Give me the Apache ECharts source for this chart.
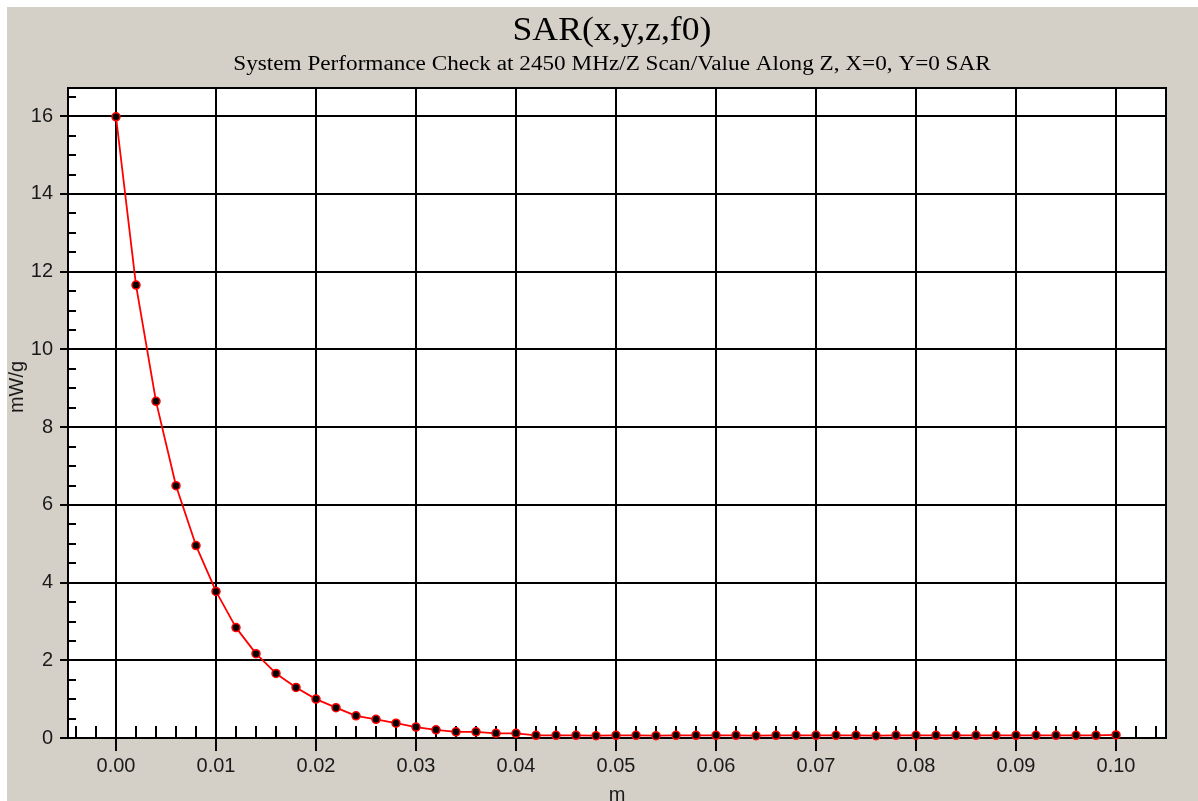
<!DOCTYPE html>
<html>
<head>
<meta charset="utf-8">
<script src="https://cdn.jsdelivr.net/npm/echarts@6/dist/echarts.min.js"></script>
<style>
html,body{margin:0;padding:0;background:#d4d0c8;}
#c{position:absolute;left:0;top:0;width:1198px;height:801px;}
</style>
</head>
<body>
<div id="c"></div>
<script>
// ---- data ----
const zPositions = [0.000,0.002,0.004,0.006,0.008,0.010,0.012,0.014,0.016,0.018,
  0.020,0.022,0.024,0.026,0.028,0.030,0.032,0.034,0.036,0.038,
  0.040,0.042,0.044,0.046,0.048,0.050,0.052,0.054,0.056,0.058,
  0.060,0.062,0.064,0.066,0.068,0.070,0.072,0.074,0.076,0.078,
  0.080,0.082,0.084,0.086,0.088,0.090,0.092,0.094,0.096,0.098,0.100];
const sarValues = [15.98,11.65,8.66,6.49,4.95,3.77,2.84,2.17,1.66,1.30,
  1.00,0.78,0.57,0.48,0.38,0.28,0.21,0.16,0.16,0.12,
  0.12,0.07,0.07,0.07,0.06,0.07,0.07,0.06,0.07,0.07,
  0.07,0.07,0.06,0.07,0.07,0.07,0.07,0.07,0.06,0.07,
  0.07,0.07,0.07,0.07,0.07,0.07,0.07,0.07,0.07,0.07,0.08];
const xLabelTicks = [0.00,0.01,0.02,0.03,0.04,0.05,0.06,0.07,0.08,0.09,0.10];
const xMinorTicks = [-0.004,-0.002,0.002,0.004,0.006,0.008,0.012,0.014,0.016,0.018,
  0.022,0.024,0.026,0.028,0.032,0.034,0.036,0.038,0.042,0.044,0.046,0.048,
  0.052,0.054,0.056,0.058,0.062,0.064,0.066,0.068,0.072,0.074,0.076,0.078,
  0.082,0.084,0.086,0.088,0.092,0.094,0.096,0.098,0.102,0.104];
const yLabelTicks = [0,2,4,6,8,10,12,14,16];
const yMinorTicks = [0.5,1,1.5,2.5,3,3.5,4.5,5,5.5,6.5,7,7.5,8.5,9,9.5,10.5,11,11.5,
  12.5,13,13.5,14.5,15,15.5,16.5];
const titleText = 'SAR(x,y,z,f0)';
const subtitleText = 'System Performance Check at 2450 MHz/Z Scan/Value Along Z, X=0, Y=0 SAR';
const xName = 'm';
const yName = 'mW/g';

const X_MIN = -0.0048, X_MAX = 0.105, Y_MIN = 0, Y_MAX = 16.72;
const labelFont = {fontFamily:'Liberation Sans, Arial, sans-serif', fontSize:20, color:'#1a1a1a'};

const chart = echarts.init(document.getElementById('c'), null, {renderer:'canvas'});
chart.setOption({
  backgroundColor:'#d4d0c8',
  animation:false,
  graphic:[
    {type:'rect', shape:{x:0,y:0,width:1198,height:7}, style:{fill:'#ffffff'}, silent:true},
    {type:'rect', shape:{x:0,y:0,width:7,height:801}, style:{fill:'#ffffff'}, silent:true},
    {type:'text', x:612, y:31, scaleX:1.05,
     style:{text:titleText, fill:'#000', font:'34px Liberation Serif, Times New Roman, serif', align:'center', verticalAlign:'middle'}},
    {type:'text', x:612, y:65, scaleX:1.16,
     style:{text:subtitleText, fill:'#000', font:'20px Liberation Serif, Times New Roman, serif', align:'center', verticalAlign:'middle'}},
    {type:'text', x:17, y:387, rotation:Math.PI/2,
     style:{text:yName, fill:'#1a1a1a', font:'20px Liberation Sans, Arial, sans-serif', align:'center', verticalAlign:'middle'}}
  ],
  grid:{left:68, top:88, width:1098, height:650, show:true, backgroundColor:'#ffffff',
        borderColor:'#000', borderWidth:2, containLabel:false, outerBoundsMode:'none'},
  xAxis:[
    {type:'value', min:X_MIN, max:X_MAX, splitNumber:11, position:'bottom',
     name:xName, nameLocation:'middle', nameGap:47, nameTextStyle:labelFont,
     axisLine:{show:true, onZero:false, lineStyle:{color:'#000', width:2}},
     axisTick:{show:true, inside:false, length:13, customValues:xLabelTicks, lineStyle:{color:'#000', width:2}},
     axisLabel:Object.assign({show:true, margin:18, customValues:xLabelTicks, formatter:v=>v.toFixed(2)}, labelFont),
     splitLine:{show:true, lineStyle:{color:'#000', width:2}}
    },
    {type:'value', min:X_MIN, max:X_MAX, position:'bottom', gridIndex:0,
     axisLine:{show:false, onZero:false},
     axisTick:{show:true, inside:true, length:12, customValues:xMinorTicks, lineStyle:{color:'#000', width:2}},
     axisLabel:{show:false}, splitLine:{show:false}
    }
  ],
  yAxis:[
    {type:'value', min:Y_MIN, max:Y_MAX, splitNumber:8, position:'left',
     axisLine:{show:true, onZero:false, lineStyle:{color:'#000', width:2}},
     axisTick:{show:true, inside:false, length:8, customValues:yLabelTicks, lineStyle:{color:'#000', width:2}},
     axisLabel:Object.assign({show:true, margin:15, customValues:yLabelTicks, formatter:v=>String(v)}, labelFont),
     splitLine:{show:true, lineStyle:{color:'#000', width:2}}
    },
    {type:'value', min:Y_MIN, max:Y_MAX, position:'left', gridIndex:0,
     axisLine:{show:false, onZero:false},
     axisTick:{show:true, inside:true, length:8, customValues:yMinorTicks, lineStyle:{color:'#000', width:2}},
     axisLabel:{show:false}, splitLine:{show:false}
    }
  ],
  series:[{
    type:'line', xAxisIndex:0, yAxisIndex:0,
    data:zPositions.map((z,i)=>[z, sarValues[i]]),
    symbol:'circle', symbolSize:8, showAllSymbol:true,
    lineStyle:{color:'#ff0000', width:1.8},
    itemStyle:{color:'#000000', borderColor:'#ff0000', borderWidth:1.5},
    clip:false, z:5
  }]
});
</script>
</body>
</html>
